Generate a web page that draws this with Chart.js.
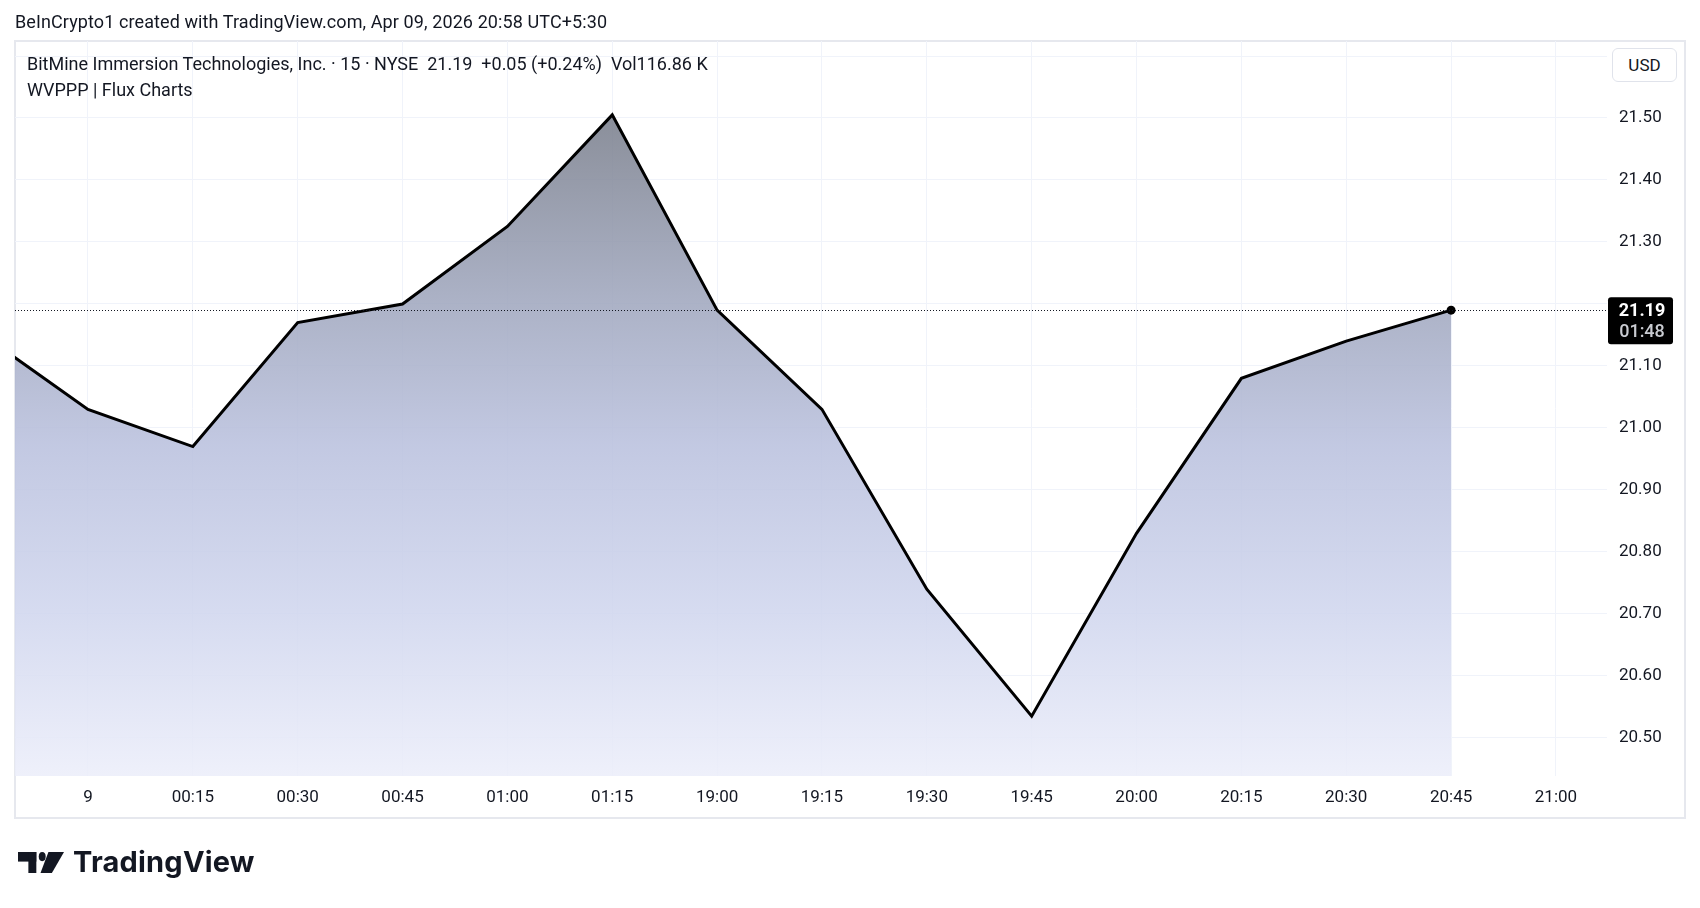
<!DOCTYPE html>
<html lang="en">
  <head>
    <meta charset="UTF-8" />
    <title>BitMine Immersion Technologies - 15m</title>
    <script src="https://cdn.jsdelivr.net/npm/chart.js@4.4.1/dist/chart.umd.min.js"></script>
    <style>
      body { margin: 0; background: #fff; color: #131722; font-family: Roboto, sans-serif; }
      #wrap { position: relative; width: 1700px; height: 908px; overflow: hidden; }
      #chart { position: absolute; left: 0; top: 0; }
      .txt { position: absolute; white-space: nowrap; font-size: 18px; line-height: 20px; }
      #usd {
        position: absolute; left: 1612px; top: 48px; width: 63px; height: 32px;
        border: 1px solid #e0e3eb; border-radius: 6px; background: #fff;
        font-size: 17px; line-height: 32px; text-align: center;
      }
      #logo { position: absolute; left: 18px; top: 851px; height: 26px; }
      #logo svg { position: absolute; left: 0; top: 1px; }
      #logo span {
        position: absolute; left: 55px; top: -5px; font-family: Inter, sans-serif;
        font-weight: 700; font-size: 29px; line-height: 32px; letter-spacing: 0.2px;
      }
    </style>
  </head>
  <body>
    <div id="wrap">
      <canvas id="chart" width="1700" height="908"></canvas>
      <div class="txt" style="left:15px; top:12px; letter-spacing:0.1px">BeInCrypto1 created with TradingView.com, Apr 09, 2026 20:58 UTC+5:30</div>
      <div class="txt" style="left:27px; top:54px">BitMine Immersion Technologies, Inc. · 15 · NYSE&nbsp; 21.19&nbsp; +0.05 (+0.24%)&nbsp; Vol116.86 K</div>
      <div class="txt" style="left:27px; top:80px">WVPPP | Flux Charts</div>
      <div id="usd">USD</div>
      <div id="logo">
        <svg width="46" height="21" viewBox="0 0 133 46" preserveAspectRatio="none">
          <rect x="0" y="0" width="53" height="21" fill="#131722" />
          <rect x="30" y="0" width="23" height="46" fill="#131722" />
          <circle cx="70" cy="10" r="10" fill="#131722" />
          <path d="M88 0H133L98 46H65Z" fill="#131722" />
        </svg>
        <span>TradingView</span>
      </div>
    </div>
    <script>
      // 15 minute closes; the first bar (23:45) sits just left of the visible pane
      const timeLabels = ['23:45', '9', '00:15', '00:30', '00:45', '01:00', '01:15', '19:00',
        '19:15', '19:30', '19:45', '20:00', '20:15', '20:30', '20:45', '21:00'];
      const closePrices = [21.15, 21.03, 20.97, 21.17, 21.20, 21.325, 21.505, 21.19,
        21.03, 20.74, 20.535, 20.83, 21.08, 21.14, 21.19];
      const lastPrice = 21.19;
      const countdown = '01:48';

      const gridColor = '#f0f3fa';
      const textColor = '#131722';

      function areaFill(ctx) {
        const chart = ctx.chart;
        const area = chart.chartArea;
        if (!area) return 'rgba(186,193,222,0.85)';
        const top = chart.scales.y.getPixelForValue(Math.max(...closePrices));
        const g = chart.ctx.createLinearGradient(0, top, 0, area.bottom);
        g.addColorStop(0, 'rgba(122,127,140,0.88)');
        g.addColorStop(0.28, 'rgba(160,167,190,0.88)');
        g.addColorStop(0.5, 'rgba(186,193,222,0.88)');
        g.addColorStop(0.75, 'rgba(208,214,238,0.88)');
        g.addColorStop(1, 'rgba(236,238,250,0.88)');
        return g;
      }

      const lastPriceMarker = {
        id: 'lastPriceMarker',
        beforeDraw(chart) {
          const c = chart.ctx;
          c.save();
          c.strokeStyle = '#e6e8ee';
          c.lineWidth = 2;
          c.strokeRect(15, 41, 1670, 777);
          c.restore();
        },
        afterDatasetsDraw(chart) {
          const c = chart.ctx;
          const area = chart.chartArea;
          const y = Math.round(chart.scales.y.getPixelForValue(lastPrice)) + 0.5;
          c.save();
          c.strokeStyle = textColor;
          c.lineWidth = 1;
          c.setLineDash([1, 2]);
          c.beginPath();
          c.moveTo(area.left, y);
          c.lineTo(area.right, y);
          c.stroke();
          c.restore();
        },
        afterDraw(chart) {
          const c = chart.ctx;
          const area = chart.chartArea;
          const y = chart.scales.y.getPixelForValue(lastPrice);
          const x = area.right + 1;
          c.save();
          c.fillStyle = '#000';
          c.beginPath();
          c.roundRect(x, y - 13, 65, 47, 3);
          c.fill();
          c.textAlign = 'center';
          c.textBaseline = 'middle';
          c.font = '700 18px Roboto';
          c.fillStyle = '#fff';
          c.fillText(lastPrice.toFixed(2), x + 34, y + 1);
          c.font = '500 18px Roboto';
          c.fillStyle = '#c9cbd1';
          c.fillText(countdown, x + 34, y + 22);
          c.restore();
        }
      };

      new Chart(document.getElementById('chart'), {
        type: 'line',
        data: {
          datasets: [{
            data: closePrices.map((v, i) => ({ x: i, y: v })),
            borderColor: '#000',
            borderWidth: 3,
            tension: 0,
            fill: 'start',
            backgroundColor: areaFill,
            pointRadius: (ctx) => (ctx.dataIndex === closePrices.length - 1 ? 4.5 : 0),
            pointHoverRadius: (ctx) => (ctx.dataIndex === closePrices.length - 1 ? 4.5 : 0),
            pointBackgroundColor: '#000',
            pointBorderWidth: 0,
            clip: 0
          }]
        },
        options: {
          responsive: false,
          animation: false,
          devicePixelRatio: 1,
          layout: { padding: { left: 15, top: 41, right: 15, bottom: 90 } },
          plugins: { legend: { display: false }, tooltip: { enabled: false } },
          scales: {
            x: {
              type: 'linear',
              min: 0.304,
              max: 15.487,
              border: { display: false },
              grid: { color: gridColor, drawTicks: false },
              afterFit: (s) => { s.height = 42; },
              ticks: {
                stepSize: 1,
                includeBounds: false,
                autoSkip: false,
                maxRotation: 0,
                maxTicksLimit: 30,
                padding: 12,
                color: textColor,
                font: { family: 'Roboto', size: 17 },
                callback: (v) => timeLabels[v] ?? ''
              }
            },
            y: {
              type: 'linear',
              position: 'right',
              min: 20.4386,
              max: 21.6242,
              border: { display: false },
              grid: { color: gridColor, drawTicks: false },
              afterFit: (s) => { s.width = 78; },
              ticks: {
                stepSize: 0.1,
                includeBounds: false,
                maxTicksLimit: 30,
                padding: 12,
                color: textColor,
                font: { family: 'Roboto', size: 17 },
                callback: (v) => (v > 21.55 || Math.abs(v - lastPrice) < 0.04 ? '' : v.toFixed(2))
              }
            }
          }
        },
        plugins: [lastPriceMarker]
      });
    </script>
  </body>
</html>
